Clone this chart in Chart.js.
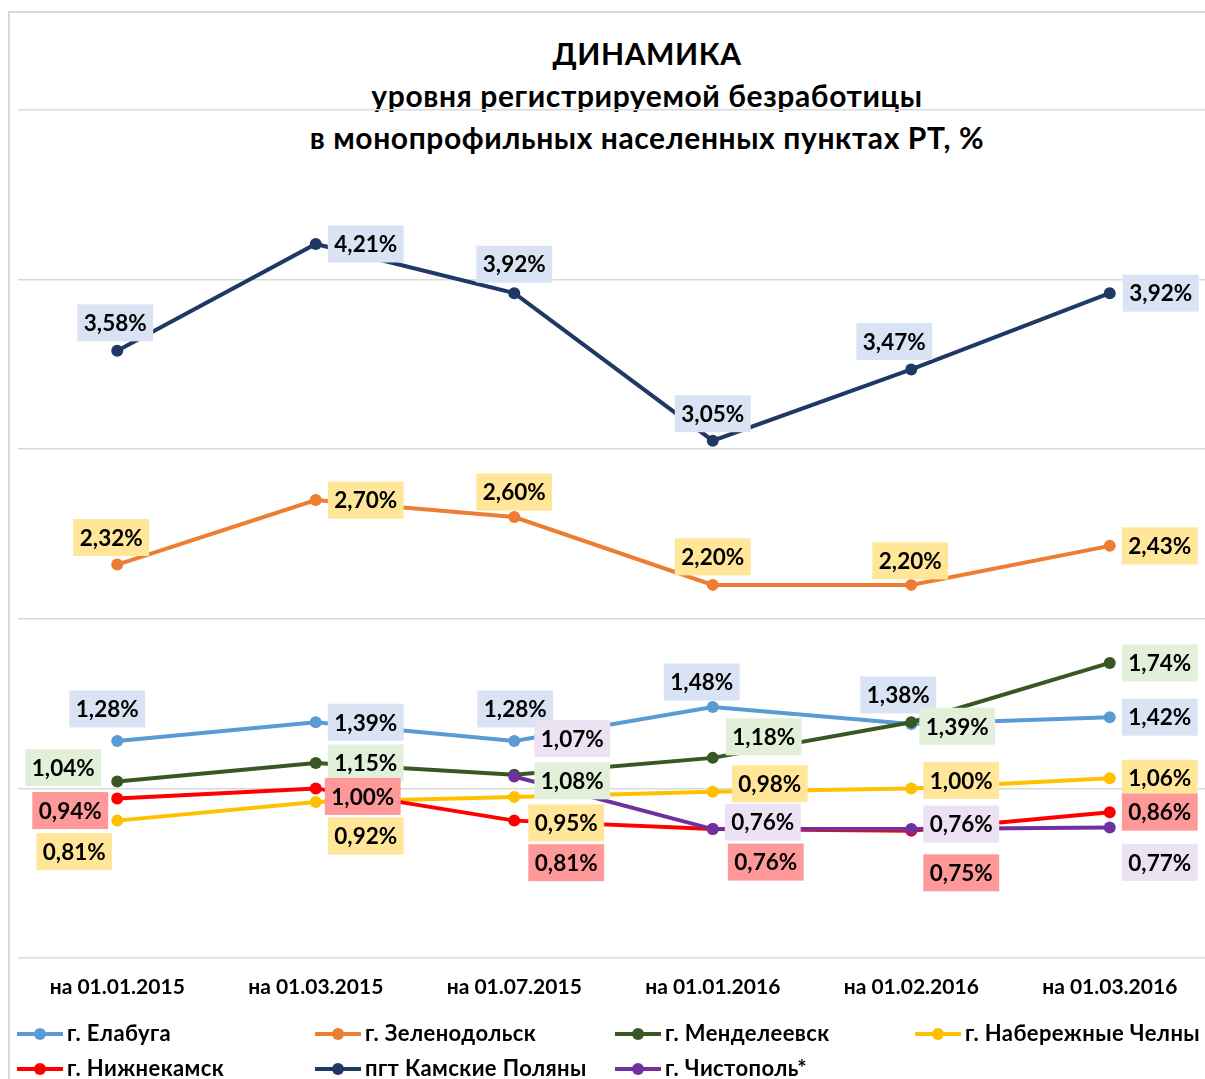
<!DOCTYPE html>
<html>
<head>
<meta charset="utf-8">
<script src="https://cdn.jsdelivr.net/npm/chart.js@4/dist/chart.umd.min.js"></script>
<style>
  html,body{margin:0;padding:0;background:#fff;overflow:hidden;width:1205px;height:1079px;}
  body{font-family:Lato,"Noto Sans",sans-serif;position:relative;}
  #frame{position:absolute;left:8px;top:11px;width:1400px;height:1400px;border:2px solid #d9d9d9;box-sizing:border-box;}
  #wrap{position:absolute;left:0;top:0;width:1218px;height:1079px;}
  #title{position:absolute;left:147px;width:1000px;top:32px;text-align:center;font-weight:bold;font-size:30px;letter-spacing:0.6px;line-height:42px;color:#000;}
  #legend{position:absolute;left:17px;top:1016px;width:1300px;font-weight:bold;font-size:22px;letter-spacing:0.4px;color:#000;}
  .item{position:absolute;white-space:nowrap;height:34px;line-height:34px;}
  .mk{display:inline-block;width:46px;height:4px;position:relative;vertical-align:middle;margin-right:4px;top:-1px;}
  .mk i{position:absolute;left:17px;top:-4px;width:12px;height:12px;border-radius:50%;}
</style>
</head>
<body>
<div id="frame"></div>
<div id="title">ДИНАМИКА<br>уровня регистрируемой безработицы<br>в монопрофильных населенных пунктах РТ, %</div>
<div id="wrap"><canvas id="c"></canvas></div>
<div id="legend"></div>
<script>
// ---- data ----
const categories = ['на 01.01.2015','на 01.03.2015','на 01.07.2015','на 01.01.2016','на 01.02.2016','на 01.03.2016'];
const seriesNames = ['г. Елабуга','г. Зеленодольск','г. Менделеевск','г. Набережные Челны','г. Нижнекамск','пгт Камские Поляны','г. Чистополь*'];
const elabuga        = [1.28, 1.39, 1.28, 1.48, 1.38, 1.42];
const zelenodolsk    = [2.32, 2.70, 2.60, 2.20, 2.20, 2.43];
const mendeleevsk    = [1.04, 1.15, 1.08, 1.18, 1.39, 1.74];
const chelny         = [0.81, 0.92, 0.95, 0.98, 1.00, 1.06];
const nizhnekamsk    = [0.94, 1.00, 0.81, 0.76, 0.75, 0.86];
const kamskiePolyany = [3.58, 4.21, 3.92, 3.05, 3.47, 3.92];
const chistopol      = [null, null, 1.07, 0.76, 0.76, 0.77];
const yTicks = [0, 1, 2, 3, 4, 5];

// ---- styles ----
const lineColors = ['#5B9BD5','#ED7D31','#385723','#FFC000','#FF0000','#203864','#7030A0'];
const labelBg    = ['#DAE3F3','#FFE699','#E2F0D9','#FFE699','#FF9999','#DAE3F3','#EDE2F3'];
// label offsets (dx, dy) from each point, in px
const labelOffsets = [
  [[-10,-32],[50,0],[1,-32],[-11,-25],[-13,-29],[50,0]],
  [[-6,-27],[50,0],[0,-25],[0,-28],[-1,-24],[50,0]],
  [[-54,-14],[50,0],[58,6],[51,-21],[46,4],[50,0]],
  [[-43,31],[50,34],[52,26],[57,-8],[50,-8],[50,0]],
  [[-47,12],[47,8],[52,42],[53,33],[50,42],[50,0]],
  [[-2,-28],[50,0],[0,-29],[0,-27],[-17,-28],[51,0]],
  [null,null,[58,-38],[50,-7],[50,-5],[50,35]]
];
const seriesData = [elabuga, zelenodolsk, mendeleevsk, chelny, nizhnekamsk, kamskiePolyany, chistopol];

const fmt = v => v.toFixed(2).replace('.', ',') + '%';

const datasets = seriesData.map((d, i) => ({
  label: seriesNames[i],
  data: d,
  borderColor: lineColors[i],
  backgroundColor: lineColors[i],
  pointBackgroundColor: lineColors[i],
  pointBorderColor: lineColors[i],
  pointBorderWidth: 0,
  pointRadius: 6,
  borderWidth: 4,
  tension: 0,
  fill: false,
  order: seriesData.length - i
}));

const labelPlugin = {
  id: 'boxLabels',
  afterDatasetsDraw(chart) {
    const ctx = chart.ctx;
    ctx.save();
    ctx.font = 'bold 22.5px Lato';
    ctx.textAlign = 'center';
    ctx.textBaseline = 'middle';
    chart.data.datasets.forEach((ds, i) => {
      const meta = chart.getDatasetMeta(i);
      ds.data.forEach((v, j) => {
        if (v == null) return;
        const pt = meta.data[j];
        const off = labelOffsets[i][j];
        const txt = fmt(v);
        const w = ctx.measureText(txt).width + 13;
        const h = 37;
        const cx = pt.x + off[0], cy = pt.y + off[1];
        ctx.fillStyle = labelBg[i];
        ctx.fillRect(cx - w / 2, cy - h / 2, w, h);
        ctx.fillStyle = '#000';
        ctx.fillText(txt, cx, cy + 1);
      });
    });
    ctx.restore();
  }
};

const chart = new Chart(document.getElementById('c'), {
  type: 'line',
  data: { labels: categories, datasets },
  plugins: [labelPlugin],
  options: {
    responsive: true,
    maintainAspectRatio: false,
    animation: false,
    layout: { autoPadding: false, padding: { left: 18, right: 9, top: 110, bottom: 71 } },
    plugins: { legend: { display: false }, title: { display: false }, tooltip: { enabled: false } },
    scales: {
      x: {
        offset: true,
        grid: { display: false, drawTicks: false },
        border: { display: false },
        ticks: { color: '#000', font: { family: 'Lato', size: 21, weight: 'bold' }, padding: 17, maxRotation: 0, autoSkip: false },
        afterFit: s => { s.height = 50; }
      },
      y: {
        min: yTicks[0], max: yTicks[yTicks.length - 1],
        afterBuildTicks: s => { s.ticks = yTicks.map(v => ({ value: v })); },
        grid: { color: '#D9D9D9', lineWidth: 1.5, drawTicks: false },
        border: { display: false },
        ticks: { display: false },
        afterFit: s => { s.width = 0; }
      }
    }
  }
});

// ---- HTML legend built from the chart datasets ----
const legend = document.getElementById('legend');
const colX = [0, 298, 598, 898];
chart.data.datasets.forEach((ds, i) => {
  const it = document.createElement('div');
  it.className = 'item';
  it.style.left = colX[i % 4] + 'px';
  it.style.top = (Math.floor(i / 4) * 35) + 'px';
  it.innerHTML = '<span class="mk" style="background:' + ds.borderColor + '"><i style="background:' + ds.borderColor + '"></i></span>' + ds.label;
  legend.appendChild(it);
});
</script>
</body>
</html>
